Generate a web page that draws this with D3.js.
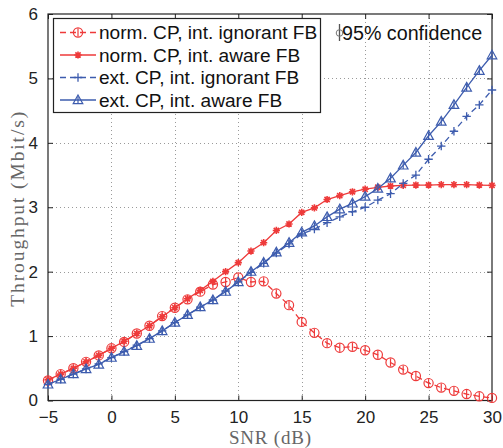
<!DOCTYPE html>
<html><head><meta charset="utf-8">
<script src="https://cdn.jsdelivr.net/npm/d3@7"></script>
<style>
html,body{margin:0;padding:0;background:#fff;}
svg{display:block;}
</style>
</head><body>
<svg id="chart" width="503" height="448"></svg>
<script>
const snr = [-5,-4,-3,-2,-1,0,1,2,3,4,5,6,7,8,9,10,11,12,13,14,15,16,17,18,19,20,21,22,23,24,25,26,27,28,29,30];
const normIgnorant = [0.31,0.41,0.50,0.60,0.70,0.81,0.91,1.04,1.16,1.31,1.44,1.57,1.69,1.80,1.84,1.91,1.84,1.85,1.66,1.48,1.22,1.05,0.89,0.82,0.835,0.78,0.71,0.59,0.48,0.38,0.27,0.20,0.15,0.10,0.065,0.04];
const normAware = [0.32,0.41,0.50,0.60,0.70,0.81,0.92,1.04,1.16,1.30,1.44,1.58,1.71,1.85,2.00,2.14,2.32,2.45,2.64,2.74,2.92,2.99,3.12,3.18,3.24,3.28,3.31,3.33,3.34,3.345,3.345,3.35,3.35,3.35,3.345,3.34];
const extIgnorant = [0.25,0.33,0.41,0.49,0.57,0.665,0.76,0.86,0.96,1.08,1.21,1.33,1.45,1.56,1.70,1.84,1.99,2.13,2.29,2.43,2.585,2.66,2.76,2.85,2.93,3.00,3.11,3.21,3.37,3.50,3.745,3.95,4.18,4.41,4.59,4.82];
const extAware = [0.25,0.33,0.41,0.49,0.56,0.665,0.76,0.85,0.96,1.08,1.21,1.33,1.45,1.56,1.69,1.84,2.00,2.14,2.30,2.45,2.61,2.71,2.85,2.97,3.06,3.165,3.29,3.45,3.65,3.85,4.11,4.33,4.59,4.86,5.12,5.36];
const seriesNames = ["norm. CP, int. ignorant FB","norm. CP, int. aware FB","ext. CP, int. ignorant FB","ext. CP, int. aware FB"];
const xTicks = [-5,0,5,10,15,20,25,30];
const yTicks = [0,1,2,3,4,5,6];
const xTitle = "SNR (dB)";
const yTitle = "Throughput (Mbit/s)";
const confidenceLabel = "95% confidence";

const RED = "#ee3a3a", BLUE = "#3d5cae";
const series = [
  {name: seriesNames[0], values: normIgnorant, color: RED, dash: "6,4", marker: "circle"},
  {name: seriesNames[1], values: normAware, color: RED, dash: null, marker: "star"},
  {name: seriesNames[2], values: extIgnorant, color: BLUE, dash: "6,4", marker: "plus"},
  {name: seriesNames[3], values: extAware, color: BLUE, dash: null, marker: "triangle"}
];

const svg = d3.select("#chart");
const L = 48, R = 492, T = 14, B = 400.5;
const x = d3.scaleLinear().domain([-5,30]).range([L,R]);
const y = d3.scaleLinear().domain([0,6]).range([B,T]);
const fmt = d3.format("d");

// grid
const grid = svg.append("g").attr("stroke","#9a9a9a").attr("stroke-width",1).attr("stroke-dasharray","1,3");
grid.selectAll("line.v").data(xTicks.slice(1,-1)).join("line")
  .attr("x1",d=>Math.round(x(d))+0.5).attr("x2",d=>Math.round(x(d))+0.5).attr("y1",T).attr("y2",B);
grid.selectAll("line.h").data(yTicks.slice(1,-1)).join("line")
  .attr("y1",d=>Math.round(y(d))+0.5).attr("y2",d=>Math.round(y(d))+0.5).attr("x1",L).attr("x2",R);

// axes
const tickFont = "'Liberation Sans', Arial, sans-serif";
const ax = svg.append("g").attr("transform",`translate(0,${B})`)
  .call(d3.axisBottom(x).tickValues(xTicks).tickSize(-5).tickPadding(10).tickFormat(fmt));
const axT = svg.append("g").attr("transform",`translate(0,${T})`)
  .call(d3.axisTop(x).tickValues(xTicks).tickSize(-5).tickFormat(""));
const ay = svg.append("g").attr("transform",`translate(${L},0)`)
  .call(d3.axisLeft(y).tickValues(yTicks).tickSize(-5).tickPadding(10).tickFormat(fmt));
const ayR = svg.append("g").attr("transform",`translate(${R},0)`)
  .call(d3.axisRight(y).tickValues(yTicks).tickSize(-5).tickFormat(""));
[ax,axT,ay,ayR].forEach(g=>{
  g.select(".domain").remove();
  g.selectAll("line").attr("stroke","#222");
  g.selectAll("text").attr("font-family",tickFont).attr("font-size",17).attr("fill","#222");
});
svg.append("rect").attr("x",L).attr("y",T).attr("width",R-L).attr("height",B-T)
  .attr("fill","none").attr("stroke","#222").attr("stroke-width",1.2);

// markers
function drawMarker(g, type, cx, cy, color){
  if(type==="circle"){
    g.append("circle").attr("cx",cx).attr("cy",cy).attr("r",4.6).attr("fill","none").attr("stroke",color).attr("stroke-width",1.2);
    g.append("line").attr("x1",cx).attr("x2",cx).attr("y1",cy-4).attr("y2",cy+4).attr("stroke",color).attr("stroke-width",1.2);
  } else if(type==="star"){
    const s=3.6, d=2.6;
    g.append("path").attr("d",`M${cx-s},${cy}H${cx+s}M${cx},${cy-s}V${cy+s}M${cx-d},${cy-d}L${cx+d},${cy+d}M${cx-d},${cy+d}L${cx+d},${cy-d}`)
      .attr("stroke",color).attr("stroke-width",1.6).attr("fill","none");
  } else if(type==="plus"){
    const s=4.2;
    g.append("path").attr("d",`M${cx-s},${cy}H${cx+s}M${cx},${cy-s}V${cy+s}`)
      .attr("stroke",color).attr("stroke-width",1.3).attr("fill","none");
  } else if(type==="triangle"){
    const h=4.8;
    g.append("path").attr("d",`M${cx},${cy-h*1.05}L${cx+h},${cy+h*0.75}L${cx-h},${cy+h*0.75}Z`)
      .attr("stroke",color).attr("stroke-width",1.2).attr("fill","none");
    g.append("line").attr("x1",cx).attr("x2",cx).attr("y1",cy-3.5).attr("y2",cy+3.5).attr("stroke",color).attr("stroke-width",1.2);
  }
}

const line = d3.line().x((d,i)=>x(snr[i])).y(d=>y(d));
const plot = svg.append("g");
series.forEach(s=>{
  plot.append("path").datum(s.values).attr("d",line).attr("fill","none")
    .attr("stroke",s.color).attr("stroke-width",1.3).attr("stroke-dasharray",s.dash);
  const mg = plot.append("g");
  s.values.forEach((v,i)=>drawMarker(mg,s.marker,x(snr[i]),y(v),s.color));
});

// legend
const lg = svg.append("g");
lg.append("rect").attr("x",53.5).attr("y",18.5).attr("width",267).attr("height",94)
  .attr("fill","#fff").attr("stroke","#222").attr("stroke-width",1.2);
const rowY = [32.5,55,77.5,100];
series.forEach((s,i)=>{
  const ry = rowY[i];
  lg.append("line").attr("x1",60).attr("x2",96).attr("y1",ry).attr("y2",ry)
    .attr("stroke",s.color).attr("stroke-width",1.3).attr("stroke-dasharray",s.dash);
  drawMarker(lg,s.marker,78,ry,s.color);
  lg.append("text").attr("x",99).attr("y",ry+6.8).text(s.name)
    .attr("font-family",tickFont).attr("font-size",19.1).attr("fill","#111");
});
// confidence note
const cg = svg.append("g");
cg.append("line").attr("x1",339.5).attr("x2",339.5).attr("y1",24).attr("y2",41).attr("stroke","#555").attr("stroke-width",1.3);
cg.append("circle").attr("cx",339.5).attr("cy",33).attr("r",3.3).attr("fill","none").attr("stroke","#777").attr("stroke-width",1);
cg.append("text").attr("x",342).attr("y",39.5).text(confidenceLabel)
  .attr("font-family",tickFont).attr("font-size",19.7).attr("fill","#111");

// titles
const serif = "'Liberation Serif', 'Times New Roman', serif";
svg.append("text").attr("x",(L+R)/2).attr("y",443.5).attr("text-anchor","middle")
  .attr("font-family",serif).attr("font-size",19).attr("fill","#666")
  .attr("textLength",82).attr("lengthAdjust","spacing").text(xTitle);
svg.append("text").attr("transform",`translate(24,${(T+B)/2+2}) rotate(-90)`).attr("text-anchor","middle")
  .attr("font-family",serif).attr("font-size",19.5).attr("fill","#666")
  .attr("textLength",195).attr("lengthAdjust","spacing").text(yTitle);
</script>
</body></html>
